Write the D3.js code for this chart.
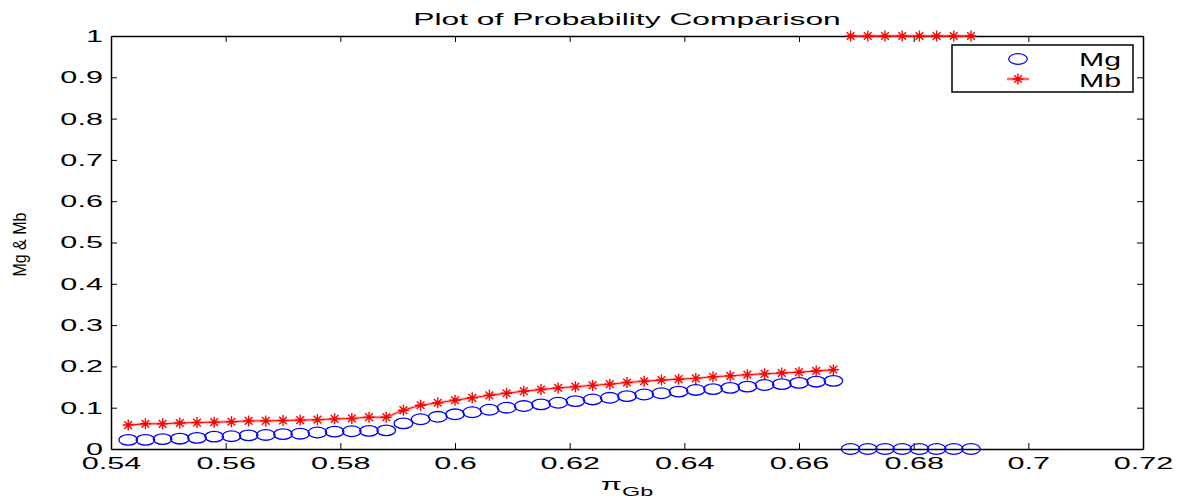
<!DOCTYPE html>
<html>
<head>
<meta charset="utf-8">
<script src="https://cdn.jsdelivr.net/npm/d3@7"></script>
<style>
  body { margin: 0; background: #fff; }
  svg { display: block; }
  text { font-family: "Liberation Sans", Arial, sans-serif; fill: #000; }
</style>
</head>
<body>
<svg id="chart" width="1186" height="502"></svg>
<script>
// x values (pi_Gb)
var piGb = [
  0.543, 0.546, 0.549, 0.552, 0.555, 0.558, 0.561, 0.564, 0.567, 0.570,
  0.573, 0.576, 0.579, 0.582, 0.585, 0.588, 0.591, 0.594, 0.597, 0.600,
  0.603, 0.606, 0.609, 0.612, 0.615, 0.618, 0.621, 0.624, 0.627, 0.630,
  0.633, 0.636, 0.639, 0.642, 0.645, 0.648, 0.651, 0.654, 0.657, 0.660,
  0.663, 0.666, 0.669, 0.672, 0.675, 0.678, 0.681, 0.684, 0.687, 0.690
];

// Mg series (blue circles)
var mgValues = [
  0.022, 0.022, 0.024, 0.025, 0.027, 0.030, 0.031, 0.033, 0.034, 0.036,
  0.037, 0.040, 0.042, 0.043, 0.044, 0.045, 0.062, 0.072, 0.078, 0.084,
  0.089, 0.095, 0.100, 0.104, 0.108, 0.112, 0.116, 0.120, 0.124, 0.128,
  0.132, 0.135, 0.139, 0.143, 0.145, 0.148, 0.151, 0.155, 0.157, 0.160,
  0.163, 0.165, 0, 0, 0, 0, 0, 0, 0, 0
];

// Mb series (red stars joined by a line)
var mbValues = [
  0.058, 0.061, 0.061, 0.063, 0.064, 0.065, 0.066, 0.068, 0.068, 0.069,
  0.070, 0.071, 0.073, 0.074, 0.077, 0.077, 0.094, 0.106, 0.112, 0.118,
  0.124, 0.130, 0.135, 0.140, 0.144, 0.148, 0.151, 0.154, 0.157, 0.161,
  0.164, 0.167, 0.169, 0.171, 0.175, 0.177, 0.180, 0.182, 0.184, 0.186,
  0.189, 0.192, 1, 1, 1, 1, 1, 1, 1, 1
];

var xTicks = [0.54, 0.56, 0.58, 0.6, 0.62, 0.64, 0.66, 0.68, 0.7, 0.72];
var xTickLabels = ["0.54", "0.56", "0.58", "0.6", "0.62", "0.64", "0.66", "0.68", "0.7", "0.72"];
var yTicks = [0, 0.1, 0.2, 0.3, 0.4, 0.5, 0.6, 0.7, 0.8, 0.9, 1];
var yTickLabels = ["0", "0.1", "0.2", "0.3", "0.4", "0.5", "0.6", "0.7", "0.8", "0.9", "1"];

// the text in the picture is stretched sideways, so stretch ours the same way
var stretch = 1.8;

var svg = d3.select("#chart"),
    margin = { top: 36, right: 43, bottom: 53, left: 111 },
    width = 1186 - margin.left - margin.right,
    height = 502 - margin.top - margin.bottom;

var g = svg.append("g").attr("transform", "translate(" + margin.left + "," + margin.top + ")");

var xScale = d3.scaleLinear().domain([0.54, 0.72]).range([0, width]),
    yScale = d3.scaleLinear().domain([0, 1]).range([height, 0]);

// style an axis group: black lines, inward ticks, stretched labels
function styleAxis(sel) {
  sel.select(".domain").attr("stroke", "#000").attr("stroke-width", 1.5);
  sel.selectAll(".tick line").attr("stroke", "#000").attr("stroke-width", 1);
  sel.selectAll(".tick text")
    .attr("fill", "#000")
    .style("font-size", "17px")
    .style("font-family", "'Liberation Sans', Arial, sans-serif")
    .attr("transform", "scale(" + stretch + ",1)");
}

// bottom axis with labels
g.append("g")
  .attr("transform", "translate(0," + height + ")")
  .call(d3.axisBottom(xScale).tickValues(xTicks)
    .tickFormat(function(d, i) { return xTickLabels[i]; })
    .tickSizeInner(-6).tickSizeOuter(0).tickPadding(8))
  .call(styleAxis);

// left axis with labels
g.append("g")
  .call(d3.axisLeft(yScale).tickValues(yTicks)
    .tickFormat(function(d, i) { return yTickLabels[i]; })
    .tickSizeInner(-6).tickSizeOuter(0).tickPadding(4.5))
  .call(styleAxis);

// top and right axes just close the box with ticks
g.append("g")
  .call(d3.axisTop(xScale).tickValues(xTicks).tickFormat("")
    .tickSizeInner(-6).tickSizeOuter(0))
  .call(styleAxis);

g.append("g")
  .attr("transform", "translate(" + width + ",0)")
  .call(d3.axisRight(yScale).tickValues(yTicks).tickFormat("")
    .tickSizeInner(-6).tickSizeOuter(0))
  .call(styleAxis);

var points = piGb.map(function(x, i) {
  return { x: x, mg: mgValues[i], mb: mbValues[i] };
});

// split Mb into runs so the jump up to 1 is not joined
var mbRuns = [[points[0]]];
for (var i = 1; i < points.length; i++) {
  if (Math.abs(points[i].mb - points[i - 1].mb) > 0.5) mbRuns.push([]);
  mbRuns[mbRuns.length - 1].push(points[i]);
}

var mbLine = d3.line()
  .x(function(d) { return xScale(d.x); })
  .y(function(d) { return yScale(d.mb); });

// soft pink halo under the red line, like the blurred original
g.selectAll(".mbHalo")
  .data(mbRuns)
  .enter().append("path")
  .attr("class", "mbHalo")
  .attr("d", mbLine)
  .attr("fill", "none")
  .attr("stroke", "#ff8080")
  .attr("stroke-opacity", 0.45)
  .attr("stroke-width", 3.5);

g.selectAll(".mbLine")
  .data(mbRuns)
  .enter().append("path")
  .attr("class", "mbLine")
  .attr("d", mbLine)
  .attr("fill", "none")
  .attr("stroke", "#ff0000")
  .attr("stroke-width", 1);

// star marker path centred on 0,0
function starPath(w, h) {
  var dx = w * 0.7, dy = h * 0.7;
  return "M" + (-w) + ",0H" + w +
    "M0," + (-h) + "V" + h +
    "M" + (-dx) + "," + (-dy) + "L" + dx + "," + dy +
    "M" + (-dx) + "," + dy + "L" + dx + "," + (-dy);
}

// Mg circles (drawn as ellipses, the picture is stretched)
g.selectAll(".mg")
  .data(points)
  .enter().append("ellipse")
  .attr("class", "mg")
  .attr("cx", function(d) { return xScale(d.x); })
  .attr("cy", function(d) { return yScale(d.mg); })
  .attr("rx", 9.3)
  .attr("ry", 5.3)
  .attr("fill", "none")
  .attr("stroke", "#0000ff")
  .attr("stroke-width", 1.3);

// Mb stars
g.selectAll(".mb")
  .data(points)
  .enter().append("path")
  .attr("class", "mb")
  .attr("transform", function(d) { return "translate(" + xScale(d.x) + "," + yScale(d.mb) + ")"; })
  .attr("d", starPath(5.5, 5.5))
  .attr("fill", "none")
  .attr("stroke", "#ff0000")
  .attr("stroke-width", 1.4);

// title
svg.append("text")
  .attr("transform", "translate(" + (margin.left + width / 2) + ",25) scale(1.87,1)")
  .attr("text-anchor", "middle")
  .style("font-size", "17px")
  .text("Plot of Probability Comparison");

// x label: pi with subscript Gb
var xLabel = svg.append("text")
  .attr("transform", "translate(" + (margin.left + width / 2) + ",490) scale(" + stretch + ",1)")
  .attr("text-anchor", "middle");
xLabel.append("tspan").style("font-size", "17px").text("\u03c0");
xLabel.append("tspan").attr("dy", 6).style("font-size", "13px").text("Gb");

// y label, fitted to the length it has in the picture
svg.append("text")
  .attr("transform", "translate(26," + (margin.top + height * 0.505) + ") rotate(-90)")
  .attr("text-anchor", "middle")
  .attr("textLength", 64)
  .attr("lengthAdjust", "spacingAndGlyphs")
  .style("font-size", "19px")
  .text("Mg & Mb");

// legend
var legend = svg.append("g");
legend.append("rect")
  .attr("x", 952).attr("y", 45)
  .attr("width", 181).attr("height", 47)
  .attr("fill", "#fff")
  .attr("stroke", "#000")
  .attr("stroke-width", 1.5);

legend.append("ellipse")
  .attr("cx", 1018).attr("cy", 59)
  .attr("rx", 9.3).attr("ry", 5.3)
  .attr("fill", "none").attr("stroke", "#0000ff").attr("stroke-width", 1.3);

legend.append("path")
  .attr("d", "M1007,79H1029")
  .attr("stroke", "#ff8080").attr("stroke-opacity", 0.45).attr("stroke-width", 3.5);
legend.append("path")
  .attr("d", "M1007,79H1029")
  .attr("stroke", "#ff0000").attr("stroke-width", 1);
legend.append("path")
  .attr("transform", "translate(1018,79)")
  .attr("d", starPath(5.5, 5.5))
  .attr("fill", "none").attr("stroke", "#ff0000").attr("stroke-width", 1.4);

legend.append("text")
  .attr("transform", "translate(1079,66) scale(1.68,1)")
  .style("font-size", "18px")
  .text("Mg");
legend.append("text")
  .attr("transform", "translate(1079,87) scale(1.68,1)")
  .style("font-size", "18px")
  .text("Mb");
</script>
</body>
</html>
